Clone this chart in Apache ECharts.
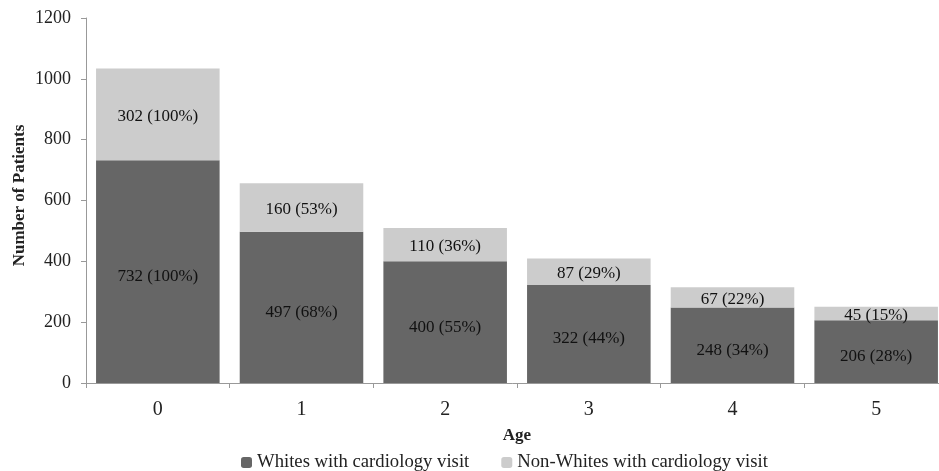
<!DOCTYPE html>
<html>
<head>
<meta charset="utf-8">
<script src="https://cdn.jsdelivr.net/npm/echarts@6/dist/echarts.min.js"></script>
<style>
  html, body { margin: 0; padding: 0; background: #fff; }
  #chart { width: 939px; height: 471px; }
</style>
</head>
<body>
<div id="chart"></div>
<script>
const ages = ['0', '1', '2', '3', '4', '5'];
const whites = [732, 497, 400, 322, 248, 206];
const whitesPct = [100, 68, 55, 44, 34, 28];
const nonWhites = [302, 160, 110, 87, 67, 45];
const nonWhitesPct = [100, 53, 36, 29, 22, 15];
const yTicks = [0, 200, 400, 600, 800, 1000, 1200];

const font = '"Liberation Serif", "Times New Roman", serif';

const chart = echarts.init(document.getElementById('chart'));

const option = {
  animation: false,
  textStyle: { fontFamily: font },
  grid: { left: 86, right: -9, top: 18, bottom: 88, outerBoundsMode: 'none' },
  legend: {
    top: 448,
    left: 236,
    itemWidth: 11,
    itemHeight: 11,
    itemGap: 32,
    textStyle: { fontFamily: font, fontSize: 18.7, color: '#222' },
    data: ['Whites with cardiology visit', 'Non-Whites with cardiology visit']
  },
  xAxis: {
    type: 'category',
    data: ages,
    name: 'Age',
    nameLocation: 'middle',
    nameGap: 44,
    nameTextStyle: { fontFamily: font, fontSize: 17, fontWeight: 'bold', color: '#222' },
    axisLine: { lineStyle: { color: '#999' } },
    axisTick: { show: true, length: 5, lineStyle: { color: '#999' } },
    axisLabel: { fontFamily: font, fontSize: 20, color: '#222', margin: 17 }
  },
  yAxis: {
    type: 'value',
    min: yTicks[0],
    max: yTicks[yTicks.length - 1],
    interval: 200,
    name: 'Number of Patients',
    nameLocation: 'middle',
    nameGap: 58,
    nameMoveOverlap: false,
    nameTextStyle: { fontFamily: font, fontSize: 17, fontWeight: 'bold', color: '#222', padding: [0, 0, 0, 10] },
    axisLine: { show: true, lineStyle: { color: '#999' } },
    axisTick: { show: true, length: 5, lineStyle: { color: '#999' } },
    axisLabel: { fontFamily: font, fontSize: 18, color: '#222', margin: 15, formatter: v => String(v) },
    splitLine: { show: false }
  },
  series: [
    {
      name: 'Whites with cardiology visit',
      type: 'bar',
      stack: 'total',
      barCategoryGap: '14%',
      itemStyle: { color: '#666666' },
      label: {
        show: true,
        position: 'inside',
        offset: [0, 5],
        fontFamily: font,
        fontSize: 17,
        color: '#111',
        formatter: p => whites[p.dataIndex] + ' (' + whitesPct[p.dataIndex] + '%)'
      },
      data: whites
    },
    {
      name: 'Non-Whites with cardiology visit',
      type: 'bar',
      stack: 'total',
      barCategoryGap: '14%',
      itemStyle: { color: '#cccccc' },
      label: {
        show: true,
        position: 'inside',
        offset: [0, 2],
        fontFamily: font,
        fontSize: 17,
        color: '#111',
        formatter: p => nonWhites[p.dataIndex] + ' (' + nonWhitesPct[p.dataIndex] + '%)'
      },
      data: nonWhites
    }
  ]
};

chart.setOption(option);
</script>
</body>
</html>
